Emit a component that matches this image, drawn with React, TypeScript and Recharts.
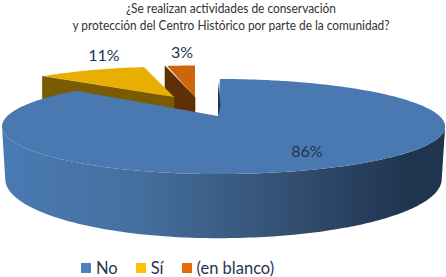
import React from "react"
import { PieChart, Pie, Legend } from "recharts"

const categories = ["No", "Sí", "(en blanco)"]
const percents = [86, 11, 3]
const titleLines = [
  "¿Se realizan actividades de conservación",
  "y protección del Centro Histórico por parte de la comunidad?",
]

const legendColors: Record<string, string> = { No: "#4f81bd", "Sí": "#ffc000", "(en blanco)": "#e36c0a" }
const topColors: Record<string, string> = { No: "#4a79b1", "Sí": "#e9af00", "(en blanco)": "#cf6509" }
const wallColors: Record<string, string> = { No: "url(#blueWall)", "Sí": "#7a5b00", "(en blanco)": "#5f3005" }

// offset and shrink of each exploded slice, px / factor
const explode: Record<string, { dx: number; dy: number; sx: number; sy: number }> = {
  No: { dx: 0, dy: 0, sx: 1, sy: 1 },
  "Sí": { dx: -44, dy: -19, sx: 0.925, sy: 0.82 },
  "(en blanco)": { dx: -23, dy: -19, sx: 0.925, sy: 0.85 },
}
const labelPos: Record<string, { dx: number; dy: number }> = {
  No: { dx: 89, dy: 34 },
  "Sí": { dx: -114, dy: -62 },
  "(en blanco)": { dx: -36, dy: -65 },
}

const PERSP = 0.221
const FLAT = 0.2088
const DEPTH = 50

// drawn back to front, the big slice last so it covers the exploded walls
const pieData = categories.map((name, i) => ({ name, value: percents[i] })).reverse()

function slicePoint(p: any, deg: number, drop = 0, narrow = 1) {
  const e = explode[p.name]
  const u = Math.cos((deg * Math.PI) / 180)
  const v = -Math.sin((deg * Math.PI) / 180)
  const s = 1 / (1 - PERSP * v)
  const side = u < 0 ? 0.973 : 1.023
  return [
    p.cx + e.dx + p.outerRadius * e.sx * u * side * s * narrow,
    p.cy + e.dy + (p.outerRadius * FLAT * e.sy * v + drop) * s,
  ]
}

function toPath(points: number[][]) {
  return "M" + points.map((q) => q[0].toFixed(1) + " " + q[1].toFixed(1)).join("L") + "Z"
}

function Slice3D(props: any) {
  const { startAngle, endAngle, cx, cy, name } = props
  const e = explode[name]
  const apex = [cx + e.dx, cy + e.dy]
  const rim: number[][] = []
  const frontTop: number[][] = []
  const frontLow: number[][] = []
  for (let a = startAngle; a <= endAngle + 0.001; a += 1) {
    rim.push(slicePoint(props, a))
    // only the part of the rim that faces the viewer gets an outer wall
    if (-Math.sin((a * Math.PI) / 180) >= PERSP) {
      frontTop.push(slicePoint(props, a))
      frontLow.push(slicePoint(props, a, DEPTH, 0.985))
    }
  }
  const last = slicePoint(props, endAngle)
  const cutWall = [apex, last, [last[0], last[1] + DEPTH], [apex[0], apex[1] + DEPTH]]
  const outerWall = [...frontTop, ...frontLow.reverse()]
  // thin dark edge of the big slice along the notch
  const notch = [apex, [last[0], last[1] + 2], [apex[0] + 2.5, apex[1] - 10]]
  return (
    <g>
      <defs>
        <linearGradient id="blueWall" gradientUnits="userSpaceOnUse" x1="2" x2="445" y1="0" y2="0">
          <stop offset="0" stopColor="#4a7ab4" />
          <stop offset="0.3" stopColor="#45709f" />
          <stop offset="0.6" stopColor="#365478" />
          <stop offset="0.92" stopColor="#20344f" />
        </linearGradient>
      </defs>
      {name !== "No" && <path d={toPath(cutWall)} fill={wallColors[name]} stroke={wallColors[name]} strokeWidth={0.6} />}
      {name === "No" && <path d={toPath(outerWall)} fill={wallColors[name]} />}
      <path d={toPath([apex, ...rim])} fill={topColors[name]} />
      {name === "No" && <path d={toPath(notch)} fill="#1f3552" />}
    </g>
  )
}

function renderLabel(props: any) {
  const pos = labelPos[props.name]
  return (
    <text
      x={props.cx + pos.dx}
      y={props.cy + pos.dy}
      textAnchor="middle"
      dominantBaseline="central"
      fontFamily="Lato"
      fontSize={16}
      fill="#1f3552"
    >
      {props.value}%
    </text>
  )
}

function LegendRow() {
  return (
    <div style={{ display: "flex", marginLeft: 81, fontFamily: "Lato", fontSize: 16.5, color: "#1f3552", lineHeight: "16px" }}>
      {categories.map((name) => (
        <div key={name} style={{ display: "flex", alignItems: "center", marginRight: 18 }}>
          <span style={{ width: 10, height: 10, background: legendColors[name], marginRight: 5 }} />
          {name}
        </div>
      ))}
    </div>
  )
}

export default function App() {
  return (
    <div style={{ position: "absolute", left: 0, top: 0, width: 446, height: 277, background: "#fff" }}>
      <div
        style={{
          position: "absolute",
          top: 0,
          left: 16,
          width: 430,
          textAlign: "center",
          fontFamily: "Lato",
          fontSize: 12.5,
          lineHeight: "17px",
          color: "#333",
          transform: "scaleX(0.952)",
          zIndex: 2,
        }}
      >
        {titleLines.map((t) => (
          <div key={t}>{t}</div>
        ))}
      </div>
      <PieChart width={446} height={277} margin={{ top: 0, right: 0, bottom: 0, left: 0 }}>
        <Pie
          data={pieData}
          dataKey="value"
          nameKey="name"
          cx={218}
          cy={116}
          outerRadius={216.5}
          startAngle={90}
          endAngle={450}
          stroke="none"
          shape={Slice3D}
          label={renderLabel}
          labelLine={false}
          isAnimationActive={false}
        />
        <Legend content={LegendRow} wrapperStyle={{ left: 0, top: 260, width: 446 }} />
      </PieChart>
    </div>
  )
}
